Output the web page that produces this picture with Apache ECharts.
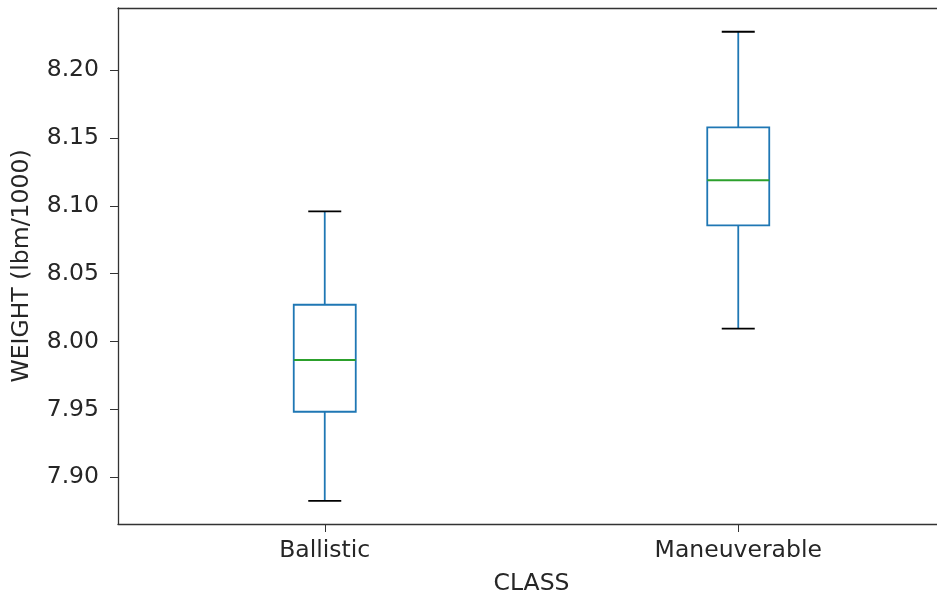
<!DOCTYPE html>
<html>
<head>
<meta charset="utf-8">
<script src="https://cdn.jsdelivr.net/npm/echarts@6/dist/echarts.min.js"></script>
<style>
  html, body { margin: 0; padding: 0; background: #ffffff; }
  #chart { width: 937px; height: 599px; }
</style>
</head>
<body>
<div id="chart"></div>
<script>
// Box-plot summary of vehicle weight per class
const categories = ['Ballistic', 'Maneuverable'];
const whiskerLow = [7.8826, 8.0095];
const quartile1 = [7.9483, 8.0856];
const medians = [7.9864, 8.1188];
const quartile3 = [8.0271, 8.1578];
const whiskerHigh = [8.0959, 8.2282];
const yTicks = [7.90, 7.95, 8.00, 8.05, 8.10, 8.15, 8.20];

const boxColor = '#1f77b4';
const medianColor = '#2ca02c';
const capColor = '#000000';
const axisColor = '#333333';
const textColor = '#262626';
const fontFamily = '"DejaVu Sans", sans-serif';
const fontSize = 23.5;

const boxData = categories.map((c, i) => [i, whiskerLow[i], quartile1[i], medians[i], quartile3[i], whiskerHigh[i]]);

const chart = echarts.init(document.getElementById('chart'), null, { renderer: 'canvas' });

function renderBox(params, api) {
  const idx = api.value(0);
  const lo = api.coord([idx, api.value(1)]);
  const q1 = api.coord([idx, api.value(2)]);
  const md = api.coord([idx, api.value(3)]);
  const q3 = api.coord([idx, api.value(4)]);
  const hi = api.coord([idx, api.value(5)]);
  const cx = lo[0];
  const boxW = 62;
  const capW = 33;
  const lw = 1.8;
  return {
    type: 'group',
    children: [
      { type: 'line', shape: { x1: cx, y1: hi[1], x2: cx, y2: q3[1] }, style: { stroke: boxColor, lineWidth: lw } },
      { type: 'line', shape: { x1: cx, y1: q1[1], x2: cx, y2: lo[1] }, style: { stroke: boxColor, lineWidth: lw } },
      { type: 'rect', shape: { x: cx - boxW / 2, y: q3[1], width: boxW, height: q1[1] - q3[1] },
        style: { fill: 'rgba(0,0,0,0)', stroke: boxColor, lineWidth: lw } },
      { type: 'line', shape: { x1: cx - boxW / 2, y1: md[1], x2: cx + boxW / 2, y2: md[1] }, style: { stroke: medianColor, lineWidth: lw } },
      { type: 'line', shape: { x1: cx - capW / 2, y1: hi[1], x2: cx + capW / 2, y2: hi[1] }, style: { stroke: capColor, lineWidth: lw } },
      { type: 'line', shape: { x1: cx - capW / 2, y1: lo[1], x2: cx + capW / 2, y2: lo[1] }, style: { stroke: capColor, lineWidth: lw } }
    ]
  };
}

chart.setOption({
  animation: false,
  backgroundColor: '#ffffff',
  grid: { left: 118, right: -8, top: 8, bottom: 75, containLabel: false, outerBoundsMode: 'none' },
  xAxis: [
    {
      type: 'category',
      data: categories,
      position: 'bottom',
      boundaryGap: true,
      name: 'CLASS',
      nameLocation: 'middle',
      nameGap: 48,
      nameTextStyle: { fontFamily: fontFamily, fontSize: fontSize, color: textColor },
      axisLine: { show: true, lineStyle: { color: axisColor, width: 1.3 } },
      axisTick: { show: true, alignWithLabel: true, length: 8, lineStyle: { color: axisColor, width: 1 } },
      axisLabel: { fontFamily: fontFamily, fontSize: fontSize, color: textColor, margin: 15 },
      splitLine: { show: false }
    },
    {
      type: 'category',
      data: categories,
      position: 'top',
      axisLine: { show: true, lineStyle: { color: axisColor, width: 1.3 } },
      axisTick: { show: false },
      axisLabel: { show: false },
      splitLine: { show: false }
    }
  ],
  yAxis: {
    type: 'value',
    min: 7.8656,
    max: 8.2457,
    name: 'WEIGHT (lbm/1000)',
    nameLocation: 'middle',
    nameGap: 84,
    nameTextStyle: { fontFamily: fontFamily, fontSize: fontSize, color: textColor },
    axisLine: { show: true, lineStyle: { color: axisColor, width: 1.3 } },
    axisTick: { show: true, length: 8, customValues: yTicks, lineStyle: { color: axisColor, width: 1 } },
    axisLabel: {
      fontFamily: fontFamily, fontSize: fontSize, color: textColor, margin: 19,
      customValues: yTicks,
      formatter: v => v.toFixed(2)
    },
    splitLine: { show: false }
  },
  series: [{
    type: 'custom',
    xAxisIndex: 0,
    yAxisIndex: 0,
    renderItem: renderBox,
    encode: { x: 0, y: [1, 2, 3, 4, 5] },
    data: boxData,
    silent: true
  }]
});
</script>
</body>
</html>
